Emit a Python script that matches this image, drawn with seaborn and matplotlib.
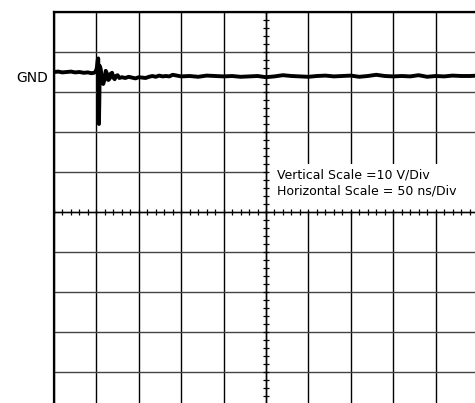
import numpy as np
import matplotlib
matplotlib.use('Agg')
import matplotlib.pyplot as plt
from matplotlib.patches import Rectangle
from matplotlib.ticker import MultipleLocator
import seaborn as sns

sns.set_style('white')

# Trace (time in ns, 50 ns/div; volts, 10 V/div, 0 = screen centre)
time_ns = [0, 5, 10, 15, 20, 25, 30, 35, 40, 44, 47, 49, 50.5, 51.5, 52.2, 52.6, 53.0, 53.4,
           54.0, 55.0, 56.5, 58.0, 59.5, 61.0, 62.5, 64.0, 65.5, 67.0, 68.5, 70.0, 71.5, 73.0,
           75, 77, 80, 84, 88, 92, 96, 100, 104, 108, 112, 116, 120, 124, 128, 132, 136,
           140, 150, 160, 170, 180, 190, 200, 210, 220, 230, 240, 250, 260, 270, 280, 290,
           300, 310, 320, 330, 340, 350, 360, 370, 380, 390, 400, 410, 420, 430, 440, 450,
           460, 470, 480, 490, 500]
volts = [35.0, 35.1, 34.9, 35.0, 35.1, 34.9, 35.0, 34.8, 34.9, 34.7, 34.8, 35.0, 36.0, 38.0, 38.4, 30.0, 22.0, 27.0,
         36.5, 35.8, 33.5, 32.0, 33.0, 35.3, 34.6, 33.0, 33.3, 34.6, 34.8, 33.6, 33.2, 34.0,
         34.2, 33.5, 33.7, 33.5, 33.8, 33.6, 33.4, 33.7, 33.6, 33.5, 33.8, 34.0, 33.8, 34.1, 33.9, 34.0, 33.9,
         34.3, 33.9, 34.0, 33.8, 34.1, 34.0, 33.9, 34.0, 33.8, 33.9, 34.0, 33.7, 33.9, 34.2, 34.0, 33.9,
         33.8, 34.0, 34.1, 33.9, 34.0, 34.1, 33.8, 34.0, 34.3, 34.0, 33.9, 34.0, 33.9, 34.2, 33.8, 34.0,
         33.9, 34.1, 34.0, 34.0, 34.1]

gnd_label = 'GND'
scale_lines = ['Vertical Scale =10 V/Div', 'Horizontal Scale = 50 ns/Div']

fig = plt.figure(figsize=(4.75, 4.03), dpi=100)
rect = [54 / 475, -9 / 403, 424 / 475, 400 / 403]
ax = fig.add_axes(rect)

sns.lineplot(x=time_ns, y=volts, ax=ax, color='black', linewidth=2.8,
             estimator=None, sort=False, zorder=5)

ax.set_xlim(0, 500)
ax.set_ylim(-50, 50)
ax.set_xticks(np.arange(0, 501, 50))
ax.set_yticks(np.arange(-50, 51, 10))
ax.set_xticklabels([])
ax.set_yticklabels([])
ax.tick_params(length=0)
ax.set_xlabel('')
ax.set_ylabel('')
ax.xaxis.grid(True, color='black', linewidth=1.0)
ax.yaxis.grid(True, color='#444444', linewidth=1.0)
for side in ['right', 'bottom']:
    ax.spines[side].set_visible(False)
for side in ['left', 'top']:
    ax.spines[side].set_color('black')
    ax.spines[side].set_linewidth(1.6)

# white panel behind the scale note
ax.add_patch(Rectangle((252, 0.3), 260, 11.8, facecolor='white', edgecolor='none', zorder=3))

# centre cross with the small division ticks
ax2 = fig.add_axes(rect)
ax2.set_xlim(0, 500)
ax2.set_ylim(-50, 50)
ax2.patch.set_visible(False)
ax2.spines['left'].set_position(('data', 250))
ax2.spines['bottom'].set_position(('data', 0))
ax2.spines['top'].set_visible(False)
ax2.spines['right'].set_visible(False)
for side in ['left', 'bottom']:
    ax2.spines[side].set_color('black')
    ax2.spines[side].set_linewidth(1.0)
ax2.xaxis.set_major_locator(MultipleLocator(10))
ax2.yaxis.set_major_locator(MultipleLocator(2))
ax2.tick_params(bottom=True, left=True, direction='inout', length=4.5, width=0.9,
                color='black', labelbottom=False, labelleft=False)
ax2.grid(False)

ax.text(-7, 32.6, gnd_label, ha='right', va='baseline', fontsize=10,
        color='black', clip_on=False)
ax.text(263, 8.4, scale_lines[0], ha='left', va='baseline', fontsize=9,
        color='black', zorder=6)
ax.text(263, 4.4, scale_lines[1], ha='left', va='baseline', fontsize=9,
        color='black', zorder=6)

fig.savefig('out.png', dpi=100)
